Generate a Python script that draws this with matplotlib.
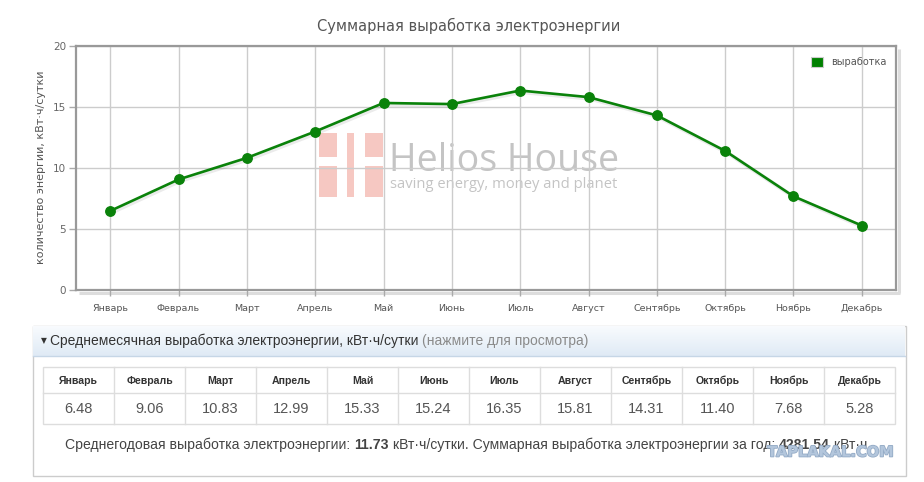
import matplotlib
matplotlib.use("Agg")
import matplotlib.pyplot as plt
import matplotlib.transforms as mtrans
from matplotlib.patches import Rectangle, Patch
import matplotlib.patheffects as pe
import numpy as np

# ---------------- data ----------------
months = ["Январь", "Февраль", "Март", "Апрель", "Май", "Июнь",
          "Июль", "Август", "Сентябрь", "Октябрь", "Ноябрь", "Декабрь"]
values = [6.48, 9.06, 10.83, 12.99, 15.33, 15.24, 16.35, 15.81, 14.31, 11.40, 7.68, 5.28]
y_ticks = [0, 5, 10, 15, 20]
series_name = "выработка"
title = "Суммарная выработка электроэнергии"
y_label = "количество энергии, кВт·ч/сутки"
avg_value = 11.73
total_value = 4281.54

W, H = 924, 482
fig = plt.figure(figsize=(W / 100, H / 100), dpi=100)
fig.patch.set_facecolor("white")

# background axes in pixel coordinates
bg = fig.add_axes([0, 0, 1, 1])
bg.set_xlim(0, W)
bg.set_ylim(H, 0)
bg.axis("off")

# chart axes
L, R, T, B = 76, 896, 46, 290
ax = fig.add_axes([L / W, (H - B) / H, (R - L) / W, (B - T) / H])
ax.set_facecolor("none")
x = np.arange(len(months))
ax.set_xlim(-0.5, len(months) - 0.5)
ax.set_ylim(y_ticks[0], y_ticks[-1])
ax.set_xticks(x)
ax.set_xticklabels(months, fontsize=6.8, color="#555555")
ax.set_yticks(y_ticks)
ax.set_yticklabels([str(v) for v in y_ticks], fontsize=7.5, color="#666666")
ax.tick_params(axis="x", length=4, width=1, color="#aaaaaa", pad=6)
ax.tick_params(axis="y", length=5, width=1, color="#aaaaaa", pad=2)
ax.set_axisbelow(True)
ax.grid(True, color="#cccccc", linewidth=1)
for s in ax.spines.values():
    s.set_color("#999999")
    s.set_linewidth(1.6)
ax.set_ylabel(y_label, fontsize=8, color="#555555")
ax.yaxis.set_label_coords(-0.037, 0.502)

# border shadow
bg.plot([R + 3, R + 3], [T + 3, B + 3], color="#dddddd", lw=2.2, solid_capstyle="butt")
bg.plot([L + 3, R + 4], [B + 3, B + 3], color="#dddddd", lw=2.2, solid_capstyle="butt")

# watermark (Helios House)
pink = "#f6c8c2"
for (x0, y0, x1, y1) in [(319, 133, 337, 157), (319, 166, 337, 197),
                         (347, 133, 354, 197),
                         (365, 133, 383, 157), (365, 166, 383, 197)]:
    bg.add_patch(Rectangle((x0, y0), x1 - x0, y1 - y0, facecolor=pink, edgecolor="none"))
bg.text(389, 171, "Helios House", fontsize=27, family="Open Sans", color="#c4c4c4",
        va="baseline", ha="left")
bg.text(390, 188, "saving energy, money and planet", fontsize=10.6, family="Open Sans",
        color="#c4c4c4", va="baseline", ha="left")

# series with shadow
green = "#0a820a"
shadow = mtrans.offset_copy(ax.transData, fig=fig, x=1.5, y=-1.5, units="dots")
ax.plot(x, values, color="#000000", alpha=0.08, lw=3, transform=shadow, zorder=2)
ax.plot(x, values, color=green, lw=1.9, marker="o", markersize=6.8,
        markerfacecolor=green, markeredgecolor=green, zorder=3)

leg = ax.legend(handles=[Patch(facecolor="#008000", edgecolor="#cccccc", linewidth=0.8,
                               label=series_name)],
                loc="upper right", bbox_to_anchor=(0.988, 0.955), frameon=False,
                fontsize=7, borderpad=0, borderaxespad=0, handlelength=1.25,
                handleheight=1.25, handletextpad=0.8)
for t in leg.get_texts():
    t.set_color("#555555")

# title
bg.text(469, 26, title, fontsize=10.5, color="#555555", ha="center", va="center")

# ---------------- table section ----------------
bg.add_patch(Rectangle((32.5, 325.5), 873, 150, facecolor="white", edgecolor="#cccccc", lw=1))
grad = np.linspace(0, 1, 64).reshape(-1, 1)
c_top = np.array([0.975, 0.985, 0.995])
c_bot = np.array([0.875, 0.918, 0.962])
img = c_top[None, None, :] * (1 - grad[:, :, None]) + c_bot[None, None, :] * grad[:, :, None]
bg.imshow(img, extent=(33, 905, 356, 326), aspect="auto", interpolation="bilinear", zorder=1)
bg.plot([33, 905], [356, 356], color="#c6d6e6", lw=1, zorder=2)
bg.set_xlim(0, W)
bg.set_ylim(H, 0)

bg.text(41, 341, "▼", fontsize=5.5, color="#333333", ha="left", va="center", zorder=3)
t1 = bg.text(50, 341, "Среднемесячная выработка электроэнергии, кВт·ч/сутки", fontsize=10.0,
             family="Liberation Sans", color="#333333", ha="left", va="center", zorder=3)
fig.canvas.draw()
rend = fig.canvas.get_renderer()
inv = bg.transData.inverted()
def right_of(t):
    bb = t.get_window_extent(renderer=rend)
    return inv.transform((bb.x1, bb.y0))[0]
bg.text(right_of(t1) + 4, 341, "(нажмите для просмотра)", fontsize=10.0,
        family="Liberation Sans", color="#8a8a8a", ha="left", va="center", zorder=3)

tl, tr, tt, tm, tb = 43, 895, 367, 393, 424
n = len(months)
cw = (tr - tl) / n
bg.add_patch(Rectangle((tl, tt), tr - tl, tb - tt, facecolor="none", edgecolor="#dddddd", lw=1))
bg.plot([tl, tr], [tm, tm], color="#dddddd", lw=1)
for i in range(1, n):
    bg.plot([tl + i * cw] * 2, [tt, tb], color="#dddddd", lw=1)
for i, (m, v) in enumerate(zip(months, values)):
    cx = tl + (i + 0.5) * cw
    bg.text(cx, 380.5, m, fontsize=7.6, fontweight="bold", family="Liberation Sans",
            color="#333333", ha="center", va="center")
    bg.text(cx, 409, f"{v:.2f}", fontsize=10.5, family="Liberation Sans",
            color="#555555", ha="center", va="center")

# footer with bold numbers
pieces = [("Среднегодовая выработка электроэнергии: ", "normal"),
          (f"{avg_value:.2f}", "bold"),
          (" кВт·ч/сутки. Суммарная выработка электроэнергии за год: ", "normal"),
          (f"{total_value:.2f}", "bold"),
          (" кВт·ч", "normal")]
xpos = 65
for txt, w in pieces:
    t = bg.text(xpos, 445, txt, fontsize=10.05, family="Liberation Sans", fontweight=w,
                color="#444444", ha="left", va="center")
    fig.canvas.draw()
    xpos = right_of(t)

bg.text(831, 452, "TAPLAKAL.COM", fontsize=10.5, fontweight="bold", family="DejaVu Sans",
        color="#b3c6dc", ha="center", va="center",
        path_effects=[pe.withStroke(linewidth=1.2, foreground="#94abc6")])

fig.savefig("out.png", dpi=100, facecolor="white")
